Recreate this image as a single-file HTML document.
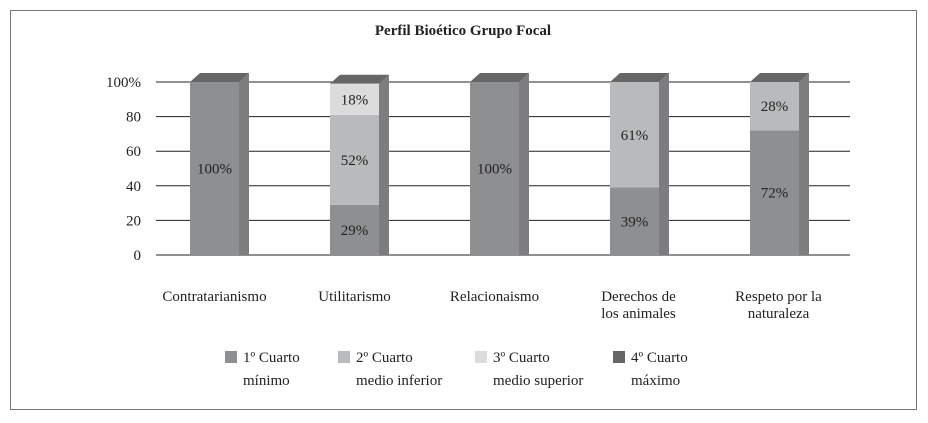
<!DOCTYPE html>
<html><head><meta charset="utf-8"><style>
body{margin:0;background:#fff;}
svg{display:block;font-family:"Liberation Serif",serif;}
</style></head><body>
<svg width="928" height="423">
<rect x="10.5" y="10.5" width="906" height="399" fill="#fff" stroke="#777"/>
<text x="463" y="35" text-anchor="middle" font-size="15" font-weight="bold" fill="#222">Perfil Bioético Grupo Focal</text>
<g id="grid"></g><g id="bars"></g><g id="labels"></g>
<g font-size="15" fill="#222">
<rect x="225" y="351" width="12" height="12" fill="#8e8f91"/>
<text x="243" y="362">1º Cuarto</text><text x="243" y="385">mínimo</text>
<rect x="338" y="351" width="12" height="12" fill="#b9babb"/>
<text x="356" y="362">2º Cuarto</text><text x="356" y="385">medio inferior</text>
<rect x="475" y="351" width="12" height="12" fill="#dcdcdd"/>
<text x="493" y="362">3º Cuarto</text><text x="493" y="385">medio superior</text>
<rect x="613" y="351" width="12" height="12" fill="#666"/>
<text x="631" y="362">4º Cuarto</text><text x="631" y="385">máximo</text>
</g>
</svg>
<script>
const categories=[["Contratarianismo"],["Utilitarismo"],["Relacionaismo"],["Derechos de","los animales"],["Respeto por la","naturaleza"]];
const q1=[100,29,100,39,72];
const q2=[0,52,0,61,28];
const q3=[0,18,0,0,0];
const q4=[0,0,0,0,0];
const ticks=[0,20,40,60,80,100];
const tickLabels=["0","20","40","60","80","100%"];
const NS="http://www.w3.org/2000/svg";
const y0=255,y1=82,x0=156,x1=850;
const ys=v=>y0-(y0-y1)*v/100;
const xs=i=>190+i*140;
const bw=49,sd=10,dp=9;
const colors=["#8e8f91","#b9babb","#dcdcdd","#666"];
function mk(t,a,p){const e=document.createElementNS(NS,t);for(const k in a)e.setAttribute(k,a[k]);p.appendChild(e);return e;}
const grid=document.getElementById('grid'),bars=document.getElementById('bars'),labels=document.getElementById('labels');
ticks.forEach((t,i)=>{
 const l=mk('line',{x1:x0,x2:x1,y1:ys(t),y2:ys(t),stroke:'#222','stroke-width':1},grid);
 
 
 const tx=mk('text',{x:141,y:ys(t)+5,'text-anchor':'end','font-size':15,fill:'#222'},grid);
 tx.textContent=tickLabels[i];
 
 
});
categories.forEach((c,i)=>{
 const x=xs(i);const series=[q1[i],q2[i],q3[i],q4[i]];
 const total=series.reduce((a,b)=>a+b,0);
 const top=ys(total);
 const side=mk('polygon',{points:`${x+bw},${top} ${x+bw+sd},${top-dp} ${x+bw+sd},${y0} ${x+bw},${y0}`,fill:'#7d7d80'},bars);
 
 
 const tp=mk('polygon',{points:`${x},${top} ${x+sd},${top-dp} ${x+bw+sd},${top-dp} ${x+bw},${top}`,fill:'#666'},bars);
 
 
 let acc=0;
 series.forEach((v,s)=>{
  if(v<=0)return;
  const yt=ys(acc+v),yb=ys(acc);
  const r=mk('rect',{x:x,y:yt,width:bw,height:yb-yt,fill:colors[s]},bars);
  
  
  const t=mk('text',{x:x+bw/2,y:(yt+yb)/2+5,'text-anchor':'middle','font-size':15,fill:'#222'},labels);
  t.textContent=v+'%';
  
  
  acc+=v;
 });
 c.forEach((ln,j)=>{
  const t=mk('text',{x:x+bw/2+(c.length>1?4:0),y:301+j*17,'text-anchor':'middle','font-size':15,fill:'#222'},labels);
  t.textContent=ln;
  
  
 });
});
</script>
</body></html>
